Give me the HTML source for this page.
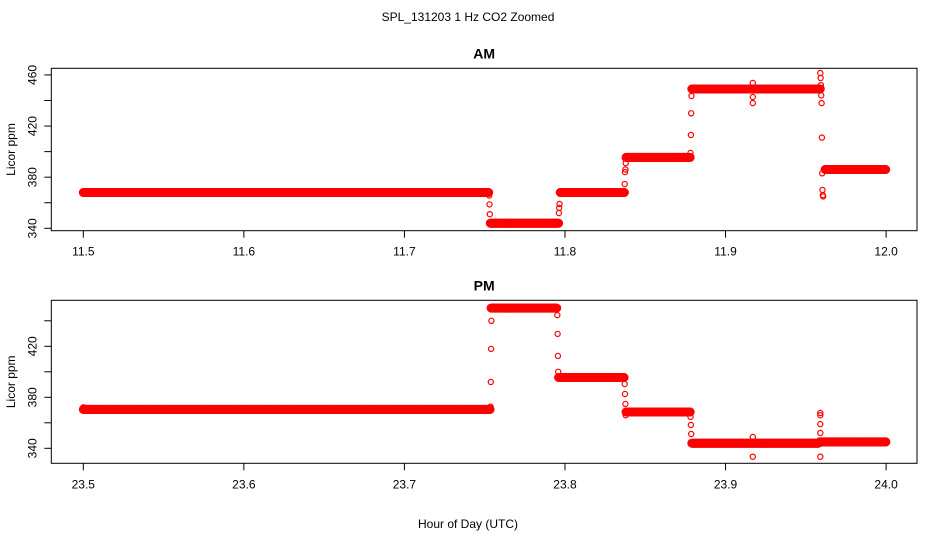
<!DOCTYPE html>
<html><head><meta charset="utf-8"><style>
body{margin:0;background:#fff}
svg{display:block;font-family:"Liberation Sans",sans-serif}
</style></head><body>
<svg id="chart" width="936" height="540" viewBox="0 0 936 540">
<text x="468" y="21" text-anchor="middle" font-size="12">SPL_131203  1 Hz CO2 Zoomed</text>
<text x="468" y="528" text-anchor="middle" font-size="12">Hour of Day (UTC)</text>
<g id="am"></g>
<g id="pm"></g>
</svg>
<script>
// AM data
const amSegStart = [11.5, 11.7535, 11.797, 11.838, 11.879, 11.962];
const amSegEnd   = [11.7526, 11.796, 11.837, 11.878, 11.959, 12.0];
const amSegLevel = [368, 344, 368, 395.5, 449, 386];
const amPtT = [11.7528,11.753,11.7532, 11.7962,11.7964,11.7966, 11.8372,11.8374,11.8376,11.8378, 11.8782,11.8784,11.8786,11.8788, 11.917,11.917,11.917, 11.959,11.9592,11.9594,11.9596,11.9598,11.960,11.9602,11.9604,11.9606,11.9608];
const amPtV = [365.7,358.7,351, 352,356,359, 374.6,384,386,391, 399,413,430,443.5, 453.7,442.7,438, 461.5,457.6,452,444,438,411,383,370,366,365];
// PM data
const pmSegStart = [23.5, 23.754, 23.796, 23.838, 23.879, 23.9585];
const pmSegEnd   = [23.7534, 23.795, 23.837, 23.878, 23.958, 24.0];
const pmSegLevel = [370.5, 450, 395.5, 368.5, 344, 345];
const pmPtT = [23.5, 23.5005, 23.7536,23.7538,23.754,23.7542, 23.7952,23.7954,23.7956,23.7958, 23.8372,23.8374,23.8376,23.8378, 23.8782,23.8784,23.8786, 23.917,23.917, 23.959,23.959,23.959,23.959,23.959];
const pmPtV = [372,372, 372.6,392,418,440, 444.5,429.7,412.5,400, 390.4,382.6,374.8,366, 364.6,358.3,351.2, 348.9,333.4, 367.7,366,359,352,333.4];
const yTicks = [340,360,380,400,420,440,460];
const yLabelsShown = [340,380,420,460];

const NS="http://www.w3.org/2000/svg";
function mk(tag,attrs,parent){const e=document.createElementNS(NS,tag);for(const k in attrs)e.setAttribute(k,attrs[k]);parent.appendChild(e);return e;}

function panel(g,cfg){
  const L=51.3,R=917,T=cfg.top,B=cfg.bottom;
  const x=v=>83.3+(v-cfg.x0)*1605.6;
  const y=v=>cfg.y340-(v-340)*cfg.ppy;
  const t=mk('text',{x:(L+R)/2,y:T-10,'text-anchor':'middle','font-size':14,'font-weight':'bold'},g);
  t.textContent=cfg.title;
  
  
  const box=mk('rect',{x:L,y:T,width:R-L,height:B-T,fill:'none',stroke:'#000','stroke-width':1},g);
  
  
  yTicks.forEach(v=>{
    const yy=y(v); if(yy<T-0.5||yy>B+0.5) return;
    const tk=mk('line',{x1:L-7,x2:L,y1:yy,y2:yy,stroke:'#000'},g);
    
    
    if(yLabelsShown.includes(v)){
      const lb=mk('text',{x:0,y:0,'text-anchor':'middle','font-size':12,transform:`translate(${L-15},${yy}) rotate(-90)`},g);
      lb.textContent=v;
      
      
    }
  });
  const yt=mk('text',{x:0,y:0,'text-anchor':'middle','font-size':12,transform:`translate(15,${(T+B)/2}) rotate(-90)`},g);
  yt.textContent='Licor ppm';
  
  
  for(let i=0;i<=5;i++){
    const v=cfg.x0+i*0.1, xx=x(v);
    const tk=mk('line',{x1:xx,x2:xx,y1:B,y2:B+7,stroke:'#000'},g);
    
    
    const lb=mk('text',{x:xx,y:B+25,'text-anchor':'middle','font-size':12},g);
    lb.textContent=v.toFixed(1);
    
    
  }
  const band=mk('g',{fill:'none',stroke:'#f00','stroke-width':2.4},g);
  
  
  const pts=mk('g',{fill:'none',stroke:'#f00','stroke-width':1.2},g);
  
  
  const step=1/3600;
  cfg.segS.forEach((s,i)=>{
    for(let h=s;h<=cfg.segE[i]+1e-9;h+=step){
      const c=mk('circle',{cx:x(h).toFixed(1),cy:y(cfg.segL[i]).toFixed(1),r:3.3},band);
      
      
    }
  });
  cfg.pT.forEach((h,i)=>{
    const c=mk('circle',{cx:x(h).toFixed(1),cy:y(cfg.pV[i]).toFixed(1),r:2.6},pts);
    
    
  });
}
panel(document.getElementById('am'),{title:'AM',top:68.3,bottom:230.7,x0:11.5,y340:228.3,ppy:1.278,segS:amSegStart,segE:amSegEnd,segL:amSegLevel,pT:amPtT,pV:amPtV});
panel(document.getElementById('pm'),{title:'PM',top:300.3,bottom:463.3,x0:23.5,y340:448.3,ppy:1.275,segS:pmSegStart,segE:pmSegEnd,segL:pmSegLevel,pT:pmPtT,pV:pmPtV});
</script>
</body></html>
